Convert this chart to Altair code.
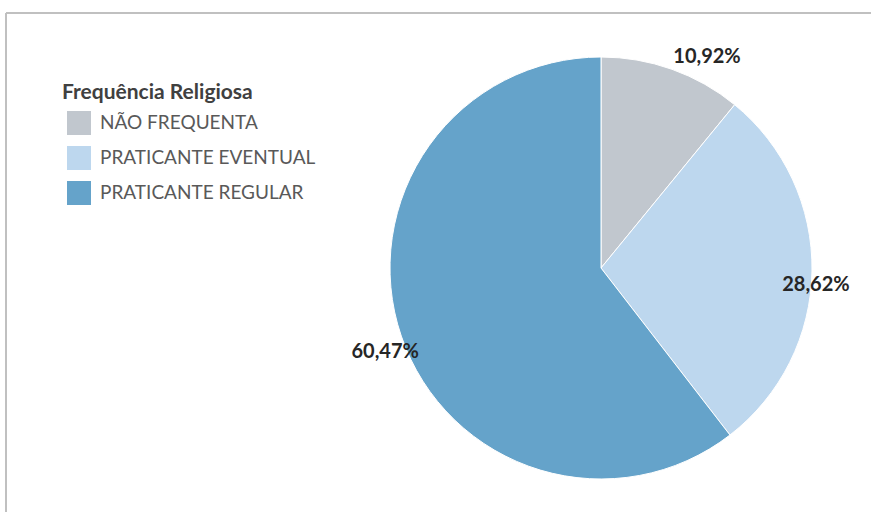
import altair as alt
import pandas as pd

categories = ["NÃO FREQUENTA", "PRATICANTE EVENTUAL", "PRATICANTE REGULAR"]
values = [10.92, 28.62, 60.47]
order_idx = [0, 1, 2]
colors = ["#C1C7CE", "#BDD7EE", "#65A3CA"]

df = pd.DataFrame({"cat": categories, "value": values, "idx": order_idx})
total = sum(values)

PADL, PADT = 6, 13
W, H = 871 - PADL, 512 - PADT
CX, CY, R = 601 - PADL, 268 - PADT, 211

base = alt.Chart(df)

pie = base.mark_arc(radius=R, stroke="white", strokeWidth=1).encode(
    theta=alt.Theta("value:Q", stack=True),
    color=alt.Color(
        "cat:N",
        scale=alt.Scale(domain=categories, range=colors),
        legend=alt.Legend(
            title="Frequência Religiosa",
            orient="none",
            legendX=56,
            legendY=69,
            symbolType="square",
            symbolSize=576,
            symbolStrokeWidth=0,
            symbolOpacity=1,
            symbolOffset=5,
            rowPadding=11,
            labelOffset=9,
            labelLimit=400,
            labelFont="Lato",
            labelFontSize=19,
            labelColor="#595959",
            titleFont="Lato",
            titleFontSize=21,
            titleFontWeight="bold",
            titleColor="#404040",
            titlePadding=8,
            titleLimit=400,
            padding=0,
        ),
    ),
    order=alt.Order("idx:Q"),
    x=alt.value(CX),
    y=alt.value(CY),
)

# frame lines (top and left edges of the chart border)
frame_top = alt.Chart(df).mark_rule(color="#BFBFBF", strokeWidth=1.5).encode(
    x=alt.value(0), x2=alt.value(W), y=alt.value(0)
)
frame_left = alt.Chart(df).mark_rule(color="#BFBFBF", strokeWidth=1.5).encode(
    x=alt.value(0), y=alt.value(0), y2=alt.value(H)
)

label_base = base.transform_window(
    cum="sum(value)", sort=[alt.SortField("idx")]
).transform_calculate(
    mid="datum.cum - datum.value / 2",
    lbl="replace(format(datum.value, '.2f'), '.', ',') + '%'",
)

label_style = [
    (categories[0], 226, 30, 2),
    (categories[1], 215, 0, 14),
    (categories[2], 228, 0, 10),
]

layers = [frame_top, frame_left, pie]
for cat, rad, dx, dy in label_style:
    layers.append(
        label_base.transform_filter(alt.datum.cat == cat)
        .mark_text(
            radius=rad, dx=dx, dy=dy, font="Lato", fontSize=20,
            fontWeight="bold", color="#262626", align="center", baseline="middle",
        )
        .encode(
            theta=alt.Theta("mid:Q", scale=alt.Scale(domain=[0, total], range=[0, 6.283185307179586])),
            text="lbl:N",
            x=alt.value(CX),
            y=alt.value(CY),
        )
    )

chart = alt.layer(*layers).properties(
    width=W, height=H,
    autosize=alt.AutoSizeParams(type="none"),
    padding={"left": PADL, "top": PADT, "right": 0, "bottom": 0},
).configure_view(strokeOpacity=0)

chart.save("out.html", embed_options={"renderer": "svg", "actions": False})
